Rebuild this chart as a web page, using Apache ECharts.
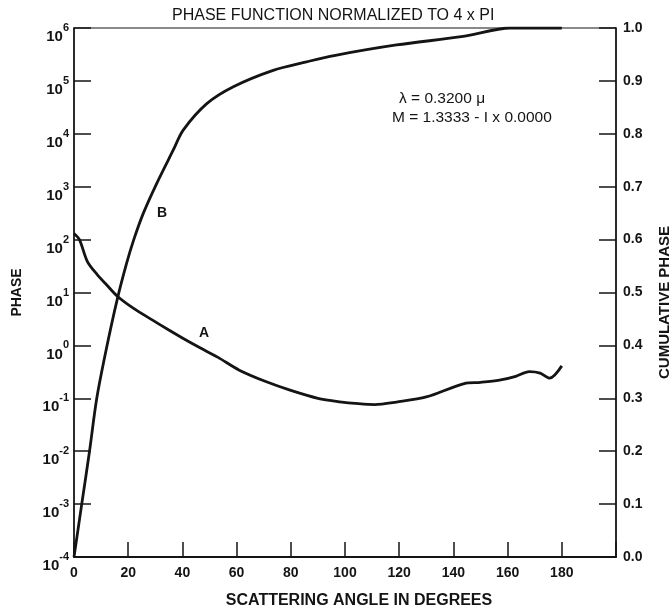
<!DOCTYPE html>
<html>
<head>
<meta charset="utf-8">
<script src="https://cdn.jsdelivr.net/npm/echarts@6/dist/echarts.min.js"></script>
<style>
  html, body { margin: 0; padding: 0; background: #fff; }
  #chart { width: 671px; height: 611px; }
</style>
</head>
<body>
<div id="chart"></div>
<script>
// curve A: phase function (left log axis)
var angleA = [0, 2, 5, 8.5, 12, 16, 22, 29, 35, 40, 46.5, 53, 61, 71, 80, 90, 98, 105, 111, 119, 130, 144, 150, 157, 163, 168, 172, 175.5, 180];
var phaseA = [130, 100, 38, 22, 14, 8.5, 5.0, 3.0, 1.95, 1.38, 0.9, 0.6, 0.34, 0.205, 0.141, 0.1, 0.086, 0.079, 0.076, 0.085, 0.106, 0.19, 0.2, 0.22, 0.26, 0.32, 0.3, 0.24, 0.41];
// curve B: cumulative phase (right linear axis)
var angleB = [0, 2.8, 5.7, 8.4, 12, 16, 19.4, 22, 25.6, 30.5, 36.6, 40.3, 49, 58.8, 73.5, 85.8, 96, 119, 143.6, 161, 180];
var cumB = [0, 0.098, 0.199, 0.30, 0.395, 0.488, 0.555, 0.599, 0.65, 0.706, 0.769, 0.807, 0.857, 0.889, 0.920, 0.936, 0.948, 0.968, 0.984, 1.0, 1.0];

var ink = '#141414';
var font = '"Liberation Sans", Arial, sans-serif';

var chart = echarts.init(document.getElementById('chart'));

function pairs(xs, ys) {
  return xs.map(function (x, i) { return [x, ys[i]]; });
}

var option = {
  animation: false,
  backgroundColor: '#fff',
  textStyle: { fontFamily: font, color: ink },
  grid: {
    left: 74, right: 55, top: 28, bottom: 54,
    outerBoundsMode: 'none',
    show: true, borderColor: ink, borderWidth: 1.2
  },
  graphic: [
    { type: 'text', left: 172, top: 8, style: { text: 'PHASE FUNCTION NORMALIZED TO 4 x PI', font: '16px ' + font, fill: ink } },
    { type: 'text', left: 399, top: 91, style: { text: 'λ = 0.3200 μ', font: '15.5px ' + font, fill: ink } },
    { type: 'text', left: 392, top: 110, style: { text: 'M = 1.3333 - I x 0.0000', font: '15.5px ' + font, fill: ink } },
    { type: 'text', left: 157, top: 206, style: { text: 'B', font: 'bold 14px ' + font, fill: ink } },
    { type: 'text', left: 199, top: 326, style: { text: 'A', font: 'bold 14px ' + font, fill: ink } }
  ],
  xAxis: {
    type: 'value', min: 0, max: 200, interval: 20,
    axisLine: { onZero: false, lineStyle: { color: ink, width: 2 } },
    axisTick: { inside: true, length: 15, lineStyle: { color: ink, width: 1.5 } },
    splitLine: { show: false },
    axisLabel: {
      color: ink, fontSize: 14, fontWeight: 'bold', margin: 9,
      formatter: function (v) { return v === 200 ? '' : String(v); }
    },
    name: 'SCATTERING ANGLE IN DEGREES', nameLocation: 'middle', nameGap: 36,
    nameTextStyle: { color: ink, fontSize: 16, fontWeight: 'bold', padding: [0, 0, 0, 28] }
  },
  yAxis: [
    {
      type: 'log', logBase: 10, min: 1e-4, max: 1e6, interval: 1,
      position: 'left',
      axisLine: { show: true, lineStyle: { color: ink, width: 1.5 } },
      axisTick: { show: true, inside: true, length: 17, lineStyle: { color: ink, width: 1.5 } },
      splitLine: { show: false },
      minorTick: { show: false },
      axisLabel: {
        margin: 5,
        formatter: function (v) {
          var e = Math.round(Math.log(v) / Math.LN10);
          return '{b|10}{s|' + e + '}';
        },
        rich: {
          b: { fontSize: 15, fontWeight: 'bold', color: ink, fontFamily: font, padding: [18, 0, 0, 0] },
          s: { fontSize: 11, fontWeight: 'bold', color: ink, fontFamily: font, padding: [0, 0, 0, 0] }
        }
      },
      name: 'PHASE', nameLocation: 'middle', nameGap: 50, nameRotate: 90,
      nameTextStyle: { color: ink, fontSize: 14, fontWeight: 'bold' }
    },
    {
      type: 'value', min: 0, max: 1, interval: 0.1,
      position: 'right',
      axisLine: { show: true, lineStyle: { color: ink, width: 1.5 } },
      axisTick: { show: true, inside: true, length: 17, lineStyle: { color: ink, width: 1.5 } },
      splitLine: { show: false },
      axisLabel: {
        color: ink, fontSize: 14, fontWeight: 'bold', margin: 7,
        formatter: function (v) { return v.toFixed(1); }
      },
      name: 'CUMULATIVE PHASE', nameLocation: 'middle', nameGap: 41, nameRotate: 90,
      nameTextStyle: { color: ink, fontSize: 15, fontWeight: 'bold', padding: [0, 20, 0, 0] }
    }
  ],
  series: [
    {
      name: 'A', type: 'line', yAxisIndex: 0, smooth: 0.3,
      showSymbol: false, silent: true,
      lineStyle: { color: ink, width: 2.8 },
      data: pairs(angleA, phaseA)
    },
    {
      name: 'B', type: 'line', yAxisIndex: 1, smooth: 0.3,
      showSymbol: false, silent: true,
      lineStyle: { color: ink, width: 2.8 },
      data: pairs(angleB, cumB)
    }
  ]
};

chart.setOption(option);
</script>
</body>
</html>
